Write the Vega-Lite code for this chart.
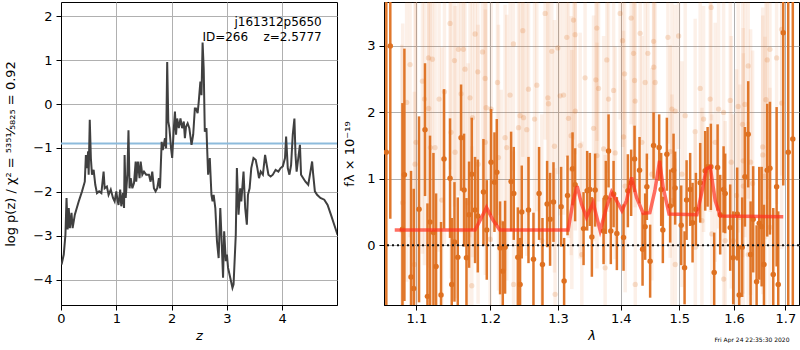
{
  "$schema": "https://vega.github.io/schema/vega-lite/v6.json",
  "padding": {"left": 4, "top": 1, "right": 0, "bottom": 0},
  "background": "white",
  "spacing": 4,
  "title": {"text": "Fri Apr 24 22:35:30 2020", "orient": "bottom", "anchor": "end", "fontSize": 6, "fontWeight": "normal", "font": "DejaVu Sans", "color": "black", "dx": -11, "dy": -10},
  "datasets": {
    "pz": [
      {"z":0.01,"logp":-3.66},{"z":0.05,"logp":-3.43},{"z":0.08,"logp":-2.98},{"z":0.10,"logp":-2.14},{"z":0.12,"logp":-2.86},{"z":0.14,"logp":-2.37},{"z":0.16,"logp":-2.83},{"z":0.19,"logp":-2.48},{"z":0.21,"logp":-2.83},{"z":0.25,"logp":-2.52},{"z":0.32,"logp":-2.22},{"z":0.38,"logp":-1.99},{"z":0.43,"logp":-1.77},{"z":0.45,"logp":-1.16},{"z":0.47,"logp":-1.46},{"z":0.49,"logp":-1.08},{"z":0.50,"logp":-1.61},{"z":0.52,"logp":-0.36},{"z":0.54,"logp":-1.23},{"z":0.56,"logp":-1.61},{"z":0.59,"logp":-1.50},{"z":0.62,"logp":-1.84},{"z":0.65,"logp":-2.03},{"z":0.69,"logp":-1.99},{"z":0.73,"logp":-2.03},{"z":0.77,"logp":-1.54},{"z":0.79,"logp":-1.92},{"z":0.83,"logp":-1.88},{"z":0.86,"logp":-2.07},{"z":0.90,"logp":-1.95},{"z":0.94,"logp":-2.14},{"z":0.97,"logp":-2.22},{"z":1.00,"logp":-1.99},{"z":1.02,"logp":-2.18},{"z":1.04,"logp":-2.30},{"z":1.07,"logp":-1.95},{"z":1.09,"logp":-2.33},{"z":1.12,"logp":-2.03},{"z":1.14,"logp":-2.37},{"z":1.15,"logp":-1.16},{"z":1.17,"logp":-2.14},{"z":1.20,"logp":-1.61},{"z":1.22,"logp":-0.60},{"z":1.24,"logp":-1.92},{"z":1.26,"logp":-1.69},{"z":1.29,"logp":-1.92},{"z":1.32,"logp":-1.80},{"z":1.35,"logp":-1.31},{"z":1.36,"logp":-1.77},{"z":1.39,"logp":-1.31},{"z":1.42,"logp":-1.69},{"z":1.44,"logp":-1.31},{"z":1.47,"logp":-1.61},{"z":1.50,"logp":-1.54},{"z":1.54,"logp":-1.61},{"z":1.59,"logp":-1.61},{"z":1.62,"logp":-1.77},{"z":1.65,"logp":-1.54},{"z":1.68,"logp":-1.92},{"z":1.71,"logp":-1.99},{"z":1.74,"logp":-1.92},{"z":1.77,"logp":-1.69},{"z":1.79,"logp":-1.92},{"z":1.82,"logp":-0.86},{"z":1.84,"logp":-1.05},{"z":1.88,"logp":-0.78},{"z":1.90,"logp":-1.01},{"z":1.92,"logp":0.96},{"z":1.94,"logp":-0.40},{"z":1.96,"logp":-0.55},{"z":1.99,"logp":-1.01},{"z":2.01,"logp":-1.23},{"z":2.04,"logp":-0.55},{"z":2.06,"logp":-0.17},{"z":2.08,"logp":-0.70},{"z":2.10,"logp":-0.33},{"z":2.13,"logp":-0.55},{"z":2.16,"logp":-0.33},{"z":2.19,"logp":-0.55},{"z":2.22,"logp":-0.40},{"z":2.24,"logp":-0.78},{"z":2.26,"logp":-0.52},{"z":2.29,"logp":-0.44},{"z":2.32,"logp":-0.55},{"z":2.36,"logp":-0.93},{"z":2.39,"logp":-0.70},{"z":2.42,"logp":-0.10},{"z":2.44,"logp":-0.10},{"z":2.47,"logp":-0.21},{"z":2.49,"logp":0.05},{"z":2.52,"logp":0.51},{"z":2.54,"logp":0.20},{"z":2.56,"logp":1.40},{"z":2.58,"logp":0.81},{"z":2.60,"logp":-0.63},{"z":2.63,"logp":-0.55},{"z":2.64,"logp":-0.93},{"z":2.66,"logp":-1.61},{"z":2.69,"logp":-1.23},{"z":2.72,"logp":-2.07},{"z":2.74,"logp":-2.22},{"z":2.76,"logp":-2.07},{"z":2.79,"logp":-2.37},{"z":2.82,"logp":-3.13},{"z":2.85,"logp":-3.51},{"z":2.88,"logp":-2.37},{"z":2.90,"logp":-2.98},{"z":2.93,"logp":-3.96},{"z":2.95,"logp":-2.90},{"z":2.98,"logp":-3.58},{"z":3.00,"logp":-3.43},{"z":3.02,"logp":-3.73},{"z":3.06,"logp":-3.96},{"z":3.10,"logp":-4.19},{"z":3.12,"logp":-4.11},{"z":3.16,"logp":-2.98},{"z":3.18,"logp":-1.46},{"z":3.21,"logp":-2.52},{"z":3.24,"logp":-1.92},{"z":3.26,"logp":-2.22},{"z":3.30,"logp":-1.54},{"z":3.33,"logp":-2.37},{"z":3.36,"logp":-2.75},{"z":3.38,"logp":-2.07},{"z":3.41,"logp":-1.92},{"z":3.44,"logp":-1.46},{"z":3.48,"logp":-1.23},{"z":3.52,"logp":-1.27},{"z":3.55,"logp":-1.46},{"z":3.58,"logp":-1.69},{"z":3.61,"logp":-1.54},{"z":3.65,"logp":-1.61},{"z":3.69,"logp":-1.16},{"z":3.72,"logp":-1.39},{"z":3.75,"logp":-1.61},{"z":3.79,"logp":-1.65},{"z":3.83,"logp":-1.61},{"z":3.88,"logp":-1.50},{"z":3.93,"logp":-1.54},{"z":3.97,"logp":-1.46},{"z":4.01,"logp":-1.42},{"z":4.05,"logp":-1.23},{"z":4.07,"logp":-0.74},{"z":4.10,"logp":-1.46},{"z":4.13,"logp":-1.61},{"z":4.16,"logp":-1.39},{"z":4.19,"logp":-0.70},{"z":4.22,"logp":-0.33},{"z":4.24,"logp":-1.16},{"z":4.26,"logp":-1.54},{"z":4.29,"logp":-1.23},{"z":4.32,"logp":-0.93},{"z":4.34,"logp":-1.61},{"z":4.38,"logp":-1.69},{"z":4.42,"logp":-1.77},{"z":4.47,"logp":-1.84},{"z":4.51,"logp":-1.54},{"z":4.54,"logp":-1.31},{"z":4.56,"logp":-1.61},{"z":4.59,"logp":-1.99},{"z":4.63,"logp":-2.07},{"z":4.69,"logp":-2.14},{"z":4.76,"logp":-2.18},{"z":4.82,"logp":-2.30},{"z":4.88,"logp":-2.52},{"z":4.94,"logp":-2.75},{"z":5.00,"logp":-2.98}
    ],
    "label": [
      {"z":4.714,"logp":1.78,"text":"j161312p5650"},
      {"z":4.714,"logp":1.44,"text":"ID=266\u00a0\u00a0\u00a0\u00a0z=2.5777"}
    ],
    "spec": [
      {"lam":1.0616,"f":1.4,"lo":-1.8,"hi":4.6},{"lam":1.0666,"f":3.0,"lo":0.4,"hi":5.6},
      {"lam":1.0820,"f":0.24,"lo":-1.66,"hi":2.14},{"lam":1.0845,"f":1.06,"lo":-0.84,"hi":2.96},{"lam":1.0930,"f":-0.48,"lo":-2.08,"hi":1.12},{"lam":1.0965,"f":-0.65,"lo":-2.15,"hi":0.85},{"lam":1.1034,"f":0.54,"lo":-0.86,"hi":1.94},{"lam":1.1112,"f":1.74,"lo":0.74,"hi":2.74},{"lam":1.1144,"f":-0.77,"lo":-2.17,"hi":0.63},{"lam":1.1178,"f":0.35,"lo":-0.95,"hi":1.65},{"lam":1.1223,"f":0.19,"lo":-1.01,"hi":1.39},{"lam":1.1258,"f":-0.32,"lo":-1.42,"hi":0.78},{"lam":1.1324,"f":-0.75,"lo":-1.85,"hi":0.35},{"lam":1.1364,"f":1.30,"lo":0.25,"hi":2.35},{"lam":1.1445,"f":1.01,"lo":0.11,"hi":1.91},{"lam":1.1468,"f":-0.59,"lo":-1.59,"hi":0.41},
      {"lam":1.1505,"f":0.05,"lo":-0.85,"hi":0.95},{"lam":1.1550,"f":-0.18,"lo":-1.08,"hi":0.72},{"lam":1.1595,"f":1.62,"lo":0.82,"hi":2.42},{"lam":1.1636,"f":0.83,"lo":-0.02,"hi":1.68},{"lam":1.1669,"f":-0.19,"lo":-1.09,"hi":0.71},{"lam":1.1705,"f":0.46,"lo":-0.34,"hi":1.26},{"lam":1.1742,"f":1.07,"lo":0.22,"hi":1.92},{"lam":1.1788,"f":0.53,"lo":-0.27,"hi":1.33},{"lam":1.1826,"f":0.44,"lo":-0.41,"hi":1.29},{"lam":1.1905,"f":0.80,"lo":0.0,"hi":1.6},{"lam":1.1952,"f":0.23,"lo":-0.52,"hi":0.98},{"lam":1.2013,"f":1.25,"lo":0.45,"hi":2.05},{"lam":1.2061,"f":0.95,"lo":0.2,"hi":1.7},{"lam":1.2094,"f":1.10,"lo":0.3,"hi":1.9},{"lam":1.2141,"f":-0.04,"lo":-0.74,"hi":0.66},{"lam":1.2180,"f":-0.39,"lo":-1.14,"hi":0.36},{"lam":1.2213,"f":-0.03,"lo":-0.73,"hi":0.67},{"lam":1.2300,"f":0.96,"lo":0.21,"hi":1.71},{"lam":1.2339,"f":0.78,"lo":0.08,"hi":1.48},{"lam":1.2398,"f":-0.18,"lo":-0.93,"hi":0.57},{"lam":1.2431,"f":-0.59,"lo":-1.29,"hi":0.11},{"lam":1.2456,"f":0.50,"lo":-0.2,"hi":1.2},
      {"lam":1.2555,"f":0.53,"lo":-0.27,"hi":1.33},{"lam":1.2629,"f":-0.21,"lo":-0.91,"hi":0.49},{"lam":1.2713,"f":0.78,"lo":0.08,"hi":1.48},{"lam":1.2764,"f":-0.29,"lo":-0.99,"hi":0.41},{"lam":1.2834,"f":0.62,"lo":-0.03,"hi":1.27},{"lam":1.2879,"f":0.39,"lo":-0.31,"hi":1.09},{"lam":1.2931,"f":0.65,"lo":0.05,"hi":1.25},{"lam":1.3048,"f":0.58,"lo":-0.02,"hi":1.18},{"lam":1.3094,"f":-0.54,"lo":-1.19,"hi":0.11},{"lam":1.3147,"f":0.75,"lo":0.15,"hi":1.35},{"lam":1.3225,"f":1.15,"lo":0.6,"hi":1.7},{"lam":1.3265,"f":0.91,"lo":0.36,"hi":1.46},{"lam":1.3398,"f":0.25,"lo":-0.3,"hi":0.8},{"lam":1.3455,"f":0.82,"lo":0.22,"hi":1.42},{"lam":1.3498,"f":0.84,"lo":0.29,"hi":1.39},{"lam":1.3530,"f":0.125,"lo":-0.475,"hi":0.725},
      {"lam":1.3582,"f":0.83,"lo":0.28,"hi":1.38},{"lam":1.3718,"f":0.215,"lo":-0.285,"hi":0.715},{"lam":1.3755,"f":0.72,"lo":0.17,"hi":1.27},{"lam":1.3799,"f":1.42,"lo":0.87,"hi":1.97},{"lam":1.3836,"f":0.215,"lo":-0.285,"hi":0.715},{"lam":1.3881,"f":0.77,"lo":0.27,"hi":1.27},{"lam":1.3935,"f":0.175,"lo":-0.375,"hi":0.725},{"lam":1.4045,"f":0.115,"lo":-0.385,"hi":0.615},{"lam":1.4117,"f":0.82,"lo":0.27,"hi":1.37},{"lam":1.4172,"f":0.94,"lo":0.44,"hi":1.44},{"lam":1.4229,"f":1.30,"lo":0.8,"hi":1.8},{"lam":1.4313,"f":1.13,"lo":0.63,"hi":1.63},{"lam":1.4364,"f":-0.06,"lo":-0.61,"hi":0.49},{"lam":1.4408,"f":0.28,"lo":-0.22,"hi":0.78},{"lam":1.4437,"f":0.88,"lo":0.38,"hi":1.38},{"lam":1.4493,"f":-0.24,"lo":-0.79,"hi":0.31},{"lam":1.4552,"f":1.50,"lo":1.0,"hi":2.0},{"lam":1.4648,"f":1.47,"lo":0.97,"hi":1.97},{"lam":1.4683,"f":0.84,"lo":0.29,"hi":1.39},{"lam":1.4712,"f":0.23,"lo":-0.27,"hi":0.73},
      {"lam":1.4782,"f":1.37,"lo":0.82,"hi":1.92},{"lam":1.4840,"f":0.59,"lo":0.04,"hi":1.14},{"lam":1.4899,"f":1.13,"lo":0.58,"hi":1.68},{"lam":1.4927,"f":0.86,"lo":0.31,"hi":1.41},{"lam":1.5034,"f":0.30,"lo":-0.3,"hi":0.9},{"lam":1.5094,"f":-0.34,"lo":-0.89,"hi":0.21},{"lam":1.5130,"f":0.68,"lo":0.08,"hi":1.28},{"lam":1.5194,"f":0.84,"lo":0.29,"hi":1.39},{"lam":1.5237,"f":0.34,"lo":-0.26,"hi":0.94},{"lam":1.5297,"f":0.54,"lo":-0.01,"hi":1.09},{"lam":1.5375,"f":0.94,"lo":0.34,"hi":1.54},{"lam":1.5466,"f":1.12,"lo":0.52,"hi":1.72},{"lam":1.5510,"f":1.18,"lo":0.58,"hi":1.78},{"lam":1.5570,"f":1.18,"lo":0.53,"hi":1.83},{"lam":1.5631,"f":-0.41,"lo":-1.01,"hi":0.19},{"lam":1.5694,"f":1.17,"lo":0.52,"hi":1.82},{"lam":1.5742,"f":0.46,"lo":-0.14,"hi":1.06},{"lam":1.5805,"f":0.84,"lo":0.19,"hi":1.49},{"lam":1.5835,"f":0.78,"lo":0.18,"hi":1.38},{"lam":1.5929,"f":0.265,"lo":-0.385,"hi":0.915},
      {"lam":1.5986,"f":-0.19,"lo":-0.89,"hi":0.51},{"lam":1.6061,"f":0.47,"lo":-0.23,"hi":1.17},{"lam":1.6099,"f":-0.75,"lo":-1.5,"hi":0.0},{"lam":1.6156,"f":-0.03,"lo":-0.78,"hi":0.72},{"lam":1.6208,"f":1.03,"lo":0.28,"hi":1.78},{"lam":1.6271,"f":1.67,"lo":0.87,"hi":2.47},{"lam":1.6317,"f":-0.14,"lo":-0.94,"hi":0.66},{"lam":1.6367,"f":0.39,"lo":-0.41,"hi":1.19},{"lam":1.6433,"f":-0.55,"lo":-1.4,"hi":0.3},{"lam":1.6484,"f":0.33,"lo":-0.52,"hi":1.18},{"lam":1.6531,"f":0.28,"lo":-0.62,"hi":1.18},{"lam":1.6576,"f":-0.29,"lo":-1.19,"hi":0.61},{"lam":1.6640,"f":1.13,"lo":0.13,"hi":2.13},{"lam":1.6694,"f":1.16,"lo":0.16,"hi":2.16},{"lam":1.6759,"f":-0.44,"lo":-1.44,"hi":0.56},{"lam":1.6826,"f":0.88,"lo":-0.32,"hi":2.08},{"lam":1.6858,"f":-0.59,"lo":-1.69,"hi":0.51},
      {"lam":1.6958,"f":3.2,"lo":0.9,"hi":5.5},{"lam":1.7058,"f":1.4,"lo":-1.8,"hi":4.6},{"lam":1.7150,"f":1.6,"lo":-1.6,"hi":4.8}
    ],
    "bg": [
      {"lam":1.0918,"f":2.72,"lo":0.12,"hi":5.32},{"lam":1.1157,"f":2.82,"lo":0.42,"hi":5.22},{"lam":1.1209,"f":2.80,"lo":0.40,"hi":5.20},{"lam":1.1078,"f":2.47,"lo":-0.13,"hi":5.07},{"lam":1.1105,"f":2.20,"lo":-0.30,"hi":4.70},{"lam":1.1298,"f":2.20,"lo":-0.10,"hi":4.50},{"lam":1.1160,"f":2.06,"lo":-0.34,"hi":4.46},{"lam":1.0995,"f":1.55,"lo":-1.05,"hi":4.15},{"lam":1.1183,"f":1.47,"lo":-0.93,"hi":3.87},{"lam":1.0874,"f":2.15,"lo":-0.55,"hi":4.85},{"lam":1.0982,"f":1.22,"lo":-1.38,"hi":3.82},{"lam":1.1334,"f":0.68,"lo":-1.62,"hi":2.98},{"lam":1.1245,"f":1.47,"lo":-0.83,"hi":3.77},{"lam":1.1445,"f":3.34,"lo":1.14,"hi":5.54},{"lam":1.1458,"f":1.70,"lo":-0.50,"hi":3.90},{"lam":1.0823,"f":0.64,"lo":-2.06,"hi":3.34},{"lam":1.0973,"f":-0.29,"lo":-2.89,"hi":2.31},{"lam":1.1370,"f":2.31,"lo":0.01,"hi":4.61},{"lam":1.0811,"f":0.22,"lo":-2.58,"hi":3.02},
      {"lam":1.1788,"f":3.18,"lo":1.08,"hi":5.28},{"lam":1.1505,"f":2.78,"lo":0.58,"hi":4.98},{"lam":1.1559,"f":2.95,"lo":0.75,"hi":5.15},{"lam":1.1627,"f":2.95,"lo":0.85,"hi":5.05},{"lam":1.1892,"f":2.91,"lo":0.81,"hi":5.01},{"lam":1.1929,"f":2.51,"lo":0.51,"hi":4.51},{"lam":1.1826,"f":2.61,"lo":0.51,"hi":4.71},{"lam":1.1649,"f":2.65,"lo":0.55,"hi":4.75},{"lam":1.2104,"f":2.45,"lo":0.45,"hi":4.45},{"lam":1.1595,"f":2.28,"lo":0.18,"hi":4.38},{"lam":1.1718,"f":2.22,"lo":0.12,"hi":4.32},{"lam":1.1943,"f":2.07,"lo":0.07,"hi":4.07},{"lam":1.2014,"f":2.05,"lo":0.05,"hi":4.05},{"lam":1.2285,"f":2.26,"lo":0.26,"hi":4.26},{"lam":1.2431,"f":1.95,"lo":-0.05,"hi":3.95},{"lam":1.2471,"f":3.23,"lo":1.33,"hi":5.13},{"lam":1.2334,"f":3.03,"lo":1.13,"hi":4.93},{"lam":1.1752,"f":1.92,"lo":-0.18,"hi":4.02},{"lam":1.1513,"f":1.40,"lo":-0.80,"hi":3.60},{"lam":1.2213,"f":1.62,"lo":-0.38,"hi":3.62},{"lam":1.2237,"f":1.47,"lo":-0.53,"hi":3.47},{"lam":1.2408,"f":1.77,"lo":-0.23,"hi":3.77},{"lam":1.1932,"f":1.55,"lo":-0.45,"hi":3.55},{"lam":1.1691,"f":0.64,"lo":-1.46,"hi":2.74},{"lam":1.1830,"f":1.22,"lo":-0.88,"hi":3.32},{"lam":1.2118,"f":1.32,"lo":-0.68,"hi":3.32},{"lam":1.2000,"f":0.09,"lo":-1.91,"hi":2.09},{"lam":1.2157,"f":0.34,"lo":-1.66,"hi":2.34},{"lam":1.1742,"f":-0.61,"lo":-2.71,"hi":1.49},{"lam":1.2336,"f":-0.59,"lo":-2.59,"hi":1.41},
      {"lam":1.2804,"f":3.49,"lo":1.59,"hi":5.39},{"lam":1.3240,"f":3.39,"lo":1.59,"hi":5.19},{"lam":1.3136,"f":3.13,"lo":1.33,"hi":4.93},{"lam":1.3265,"f":3.17,"lo":1.37,"hi":4.97},{"lam":1.2905,"f":2.92,"lo":1.02,"hi":4.82},{"lam":1.2997,"f":2.97,"lo":1.07,"hi":4.87},{"lam":1.2555,"f":2.35,"lo":0.45,"hi":4.25},{"lam":1.2679,"f":2.41,"lo":0.51,"hi":4.31},{"lam":1.2845,"f":2.22,"lo":0.32,"hi":4.12},{"lam":1.2855,"f":2.13,"lo":0.23,"hi":4.03},{"lam":1.3033,"f":2.25,"lo":0.45,"hi":4.05},{"lam":1.3085,"f":2.26,"lo":0.46,"hi":4.06},{"lam":1.2482,"f":1.92,"lo":0.02,"hi":3.82},{"lam":1.2530,"f":1.74,"lo":-0.16,"hi":3.64},{"lam":1.2645,"f":1.90,"lo":0.0,"hi":3.8},{"lam":1.2946,"f":1.49,"lo":-0.41,"hi":3.39},{"lam":1.3162,"f":1.91,"lo":0.11,"hi":3.71},{"lam":1.3203,"f":1.65,"lo":-0.15,"hi":3.45},{"lam":1.3344,"f":1.50,"lo":-0.2,"hi":3.2},{"lam":1.3422,"f":2.52,"lo":0.82,"hi":4.22},{"lam":1.3268,"f":2.02,"lo":0.22,"hi":3.82},{"lam":1.3214,"f":1.14,"lo":-0.66,"hi":2.94},{"lam":1.2754,"f":0.07,"lo":-1.83,"hi":1.97},{"lam":1.3370,"f":-0.14,"lo":-1.84,"hi":1.56},{"lam":1.2956,"f":-0.74,"lo":-2.64,"hi":1.16},
      {"lam":1.3989,"f":3.49,"lo":1.89,"hi":5.09},{"lam":1.4172,"f":3.42,"lo":1.82,"hi":5.02},{"lam":1.3610,"f":3.27,"lo":1.57,"hi":4.97},{"lam":1.4029,"f":3.08,"lo":1.48,"hi":4.68},{"lam":1.4323,"f":3.19,"lo":1.59,"hi":4.79},{"lam":1.4552,"f":3.07,"lo":1.47,"hi":4.67},{"lam":1.3771,"f":2.79,"lo":1.09,"hi":4.49},{"lam":1.4212,"f":2.89,"lo":1.29,"hi":4.49},{"lam":1.4454,"f":2.89,"lo":1.29,"hi":4.49},{"lam":1.3594,"f":2.49,"lo":0.79,"hi":4.19},{"lam":1.4062,"f":2.58,"lo":0.98,"hi":4.18},{"lam":1.4555,"f":2.68,"lo":1.08,"hi":4.28},{"lam":1.3799,"f":2.20,"lo":0.5,"hi":3.9},{"lam":1.3637,"f":2.36,"lo":0.66,"hi":4.06},{"lam":1.3881,"f":2.33,"lo":0.73,"hi":3.93},{"lam":1.4229,"f":2.48,"lo":0.88,"hi":4.08},{"lam":1.4239,"f":2.17,"lo":0.57,"hi":3.77},{"lam":1.4408,"f":2.45,"lo":0.85,"hi":4.05},{"lam":1.4579,"f":2.45,"lo":0.85,"hi":4.05},{"lam":1.3557,"f":1.76,"lo":0.06,"hi":3.46},{"lam":1.3612,"f":1.35,"lo":-0.35,"hi":3.05},{"lam":1.3718,"f":1.45,"lo":-0.25,"hi":3.15},{"lam":1.4045,"f":1.63,"lo":0.03,"hi":3.23},{"lam":1.4352,"f":1.55,"lo":-0.05,"hi":3.15},{"lam":1.4072,"f":0.89,"lo":-0.71,"hi":2.49},{"lam":1.3907,"f":1.39,"lo":-0.21,"hi":2.99},{"lam":1.4522,"f":1.07,"lo":-0.53,"hi":2.67},{"lam":1.3744,"f":-0.34,"lo":-2.04,"hi":1.36},{"lam":1.4241,"f":-0.59,"lo":-2.19,"hi":1.01},
      {"lam":1.5575,"f":3.58,"lo":1.88,"hi":5.28},{"lam":1.4800,"f":3.13,"lo":1.53,"hi":4.73},{"lam":1.4988,"f":3.15,"lo":1.45,"hi":4.85},{"lam":1.5375,"f":2.36,"lo":0.66,"hi":4.06},{"lam":1.5557,"f":2.20,"lo":0.5,"hi":3.9},{"lam":1.4870,"f":2.05,"lo":0.45,"hi":3.65},{"lam":1.4927,"f":2.02,"lo":0.42,"hi":3.62},{"lam":1.5105,"f":1.95,"lo":0.25,"hi":3.65},{"lam":1.5436,"f":1.90,"lo":0.2,"hi":3.6},{"lam":1.5712,"f":2.05,"lo":0.25,"hi":3.85},{"lam":1.5805,"f":2.00,"lo":0.2,"hi":3.8},{"lam":1.5284,"f":1.71,"lo":0.01,"hi":3.41},{"lam":1.4840,"f":1.41,"lo":-0.19,"hi":3.01},{"lam":1.5650,"f":1.55,"lo":-0.25,"hi":3.35},{"lam":1.5046,"f":1.07,"lo":-0.63,"hi":2.77},{"lam":1.4872,"f":0.67,"lo":-0.93,"hi":2.27},{"lam":1.5406,"f":0.37,"lo":-1.33,"hi":2.07},{"lam":1.5588,"f":0.17,"lo":-1.63,"hi":1.97},{"lam":1.5835,"f":0.07,"lo":-1.73,"hi":1.87},{"lam":1.5286,"f":-0.03,"lo":-1.73,"hi":1.67},{"lam":1.4929,"f":-0.29,"lo":-1.89,"hi":1.31},{"lam":1.5807,"f":-0.51,"lo":-2.31,"hi":1.29},
      {"lam":1.6925,"f":3.25,"lo":1.05,"hi":5.45},{"lam":1.6693,"f":2.95,"lo":0.85,"hi":5.05},{"lam":1.6826,"f":2.82,"lo":0.62,"hi":5.02},{"lam":1.6640,"f":2.79,"lo":0.69,"hi":4.89},{"lam":1.6271,"f":2.70,"lo":0.7,"hi":4.7},{"lam":1.5930,"f":2.18,"lo":0.28,"hi":4.08},{"lam":1.6080,"f":2.09,"lo":0.19,"hi":3.99},{"lam":1.6208,"f":2.12,"lo":0.12,"hi":4.12},{"lam":1.6615,"f":2.19,"lo":0.09,"hi":4.29},{"lam":1.6927,"f":2.14,"lo":-0.06,"hi":4.34},{"lam":1.6163,"f":1.82,"lo":-0.18,"hi":3.82},{"lam":1.6551,"f":1.48,"lo":-0.62,"hi":3.58},{"lam":1.6553,"f":1.36,"lo":-0.74,"hi":3.46},{"lam":1.5949,"f":1.25,"lo":-0.65,"hi":3.15},{"lam":1.6176,"f":1.27,"lo":-0.73,"hi":3.27},{"lam":1.6317,"f":1.25,"lo":-0.75,"hi":3.25},{"lam":1.6356,"f":0.93,"lo":-1.07,"hi":2.93},{"lam":1.6049,"f":0.75,"lo":-1.15,"hi":2.65},{"lam":1.6178,"f":0.89,"lo":-1.11,"hi":2.89},{"lam":1.6595,"f":1.04,"lo":-1.06,"hi":3.14},{"lam":1.5986,"f":0.07,"lo":-1.83,"hi":1.97},{"lam":1.6112,"f":0.42,"lo":-1.58,"hi":2.42},{"lam":1.6271,"f":-0.14,"lo":-2.14,"hi":1.86},{"lam":1.6695,"f":0.27,"lo":-1.83,"hi":2.37}
    ],
    "model": [
      {"lam":1.0722,"f":0.23},{"lam":1.1788,"f":0.23},{"lam":1.1870,"f":0.40},{"lam":1.1948,"f":0.57},{"lam":1.2040,"f":0.38},{"lam":1.2137,"f":0.23},{"lam":1.3156,"f":0.23},{"lam":1.3235,"f":0.67},{"lam":1.3297,"f":0.89},{"lam":1.3366,"f":0.62},{"lam":1.3444,"f":0.42},{"lam":1.3551,"f":0.64},{"lam":1.3663,"f":0.22},{"lam":1.3766,"f":0.57},{"lam":1.3848,"f":0.80},{"lam":1.3930,"f":0.67},{"lam":1.4018,"f":0.52},{"lam":1.4095,"f":0.67},{"lam":1.4180,"f":1.02},{"lam":1.4262,"f":0.72},{"lam":1.4375,"f":0.48},{"lam":1.4488,"f":0.49},{"lam":1.4574,"f":0.82},{"lam":1.4655,"f":1.27},{"lam":1.4718,"f":0.87},{"lam":1.4820,"f":0.47},{"lam":1.5315,"f":0.46},{"lam":1.5423,"f":0.87},{"lam":1.5485,"f":1.15},{"lam":1.5557,"f":1.18},{"lam":1.5650,"f":0.67},{"lam":1.5742,"f":0.44},{"lam":1.6958,"f":0.43}
    ]
  },
  "hconcat": [
    {
      "width": 276,
      "height": 303,
      "layer": [
        {
          "data": {"values": [{}]},
          "mark": {"type": "rule", "color": "#8dbbdc", "strokeWidth": 2},
          "encoding": {"y": {"datum": -0.9, "type": "quantitative", "title": "log p(z) / χ² = ⁵³⁵¹⁄₅₈₂₅ = 0.92"}}
        },
        {
          "data": {"name": "pz"},
          "mark": {"type": "line", "color": "#404040", "strokeWidth": 2, "clip": true},
          "encoding": {
            "x": {"field": "z", "type": "quantitative", "title": "z", "scale": {"domain": [0, 4.99], "nice": false, "zero": false}, "axis": {"values": [0, 1, 2, 3, 4], "format": "d", "titleFontStyle": "italic", "grid": true}},
            "y": {"field": "logp", "type": "quantitative", "title": "log p(z) / χ² = ⁵³⁵¹⁄₅₈₂₅ = 0.92", "scale": {"domain": [-4.58, 2.325], "nice": false, "zero": false}, "axis": {"values": [-4, -3, -2, -1, 0, 1, 2], "format": "d", "titlePadding": 15, "grid": true}}
          }
        },
        {
          "data": {"name": "label"},
          "mark": {"type": "text", "align": "right", "baseline": "alphabetic", "fontSize": 12, "font": "DejaVu Sans", "color": "black"},
          "encoding": {
            "x": {"field": "z", "type": "quantitative", "title": "z"},
            "y": {"field": "logp", "type": "quantitative", "title": "log p(z) / χ² = ⁵³⁵¹⁄₅₈₂₅ = 0.92"},
            "text": {"field": "text"}
          }
        }
      ]
    },
    {
      "width": 415,
      "height": 303,
      "layer": [
        {
          "data": {"name": "bg"},
          "mark": {"type": "rule", "color": "#de7020", "strokeWidth": 3.5, "opacity": 0.1, "clip": true},
          "encoding": {
            "x": {"field": "lam", "type": "quantitative", "title": "λ", "scale": {"type": "log", "domain": [1.0587, 1.7276], "nice": false, "zero": false}, "axis": {"values": [1.1, 1.2, 1.3, 1.4, 1.5, 1.6, 1.7], "format": ".1f", "titleFontStyle": "italic", "grid": true}},
            "y": {"field": "lo", "type": "quantitative", "title": "fλ × 10⁻¹⁹", "scale": {"domain": [-0.9, 3.662], "nice": false, "zero": false}, "axis": {"values": [0, 1, 2, 3], "format": "d", "titlePadding": 10, "grid": true}},
            "y2": {"field": "hi"}
          }
        },
        {
          "data": {"name": "bg"},
          "mark": {"type": "circle", "color": "#de7020", "opacity": 0.2, "size": 28, "clip": true},
          "encoding": {
            "x": {"field": "lam", "type": "quantitative", "title": "λ"},
            "y": {"field": "f", "type": "quantitative", "title": "fλ × 10⁻¹⁹"}
          }
        },
        {
          "data": {"name": "spec"},
          "mark": {"type": "rule", "color": "#de7020", "strokeWidth": 2.5, "opacity": 0.95, "clip": true},
          "encoding": {
            "x": {"field": "lam", "type": "quantitative", "title": "λ"},
            "y": {"field": "lo", "type": "quantitative", "title": "fλ × 10⁻¹⁹"},
            "y2": {"field": "hi"}
          }
        },
        {
          "data": {"name": "spec"},
          "mark": {"type": "circle", "color": "#de7020", "opacity": 1, "size": 30, "clip": true},
          "encoding": {
            "x": {"field": "lam", "type": "quantitative", "title": "λ"},
            "y": {"field": "f", "type": "quantitative", "title": "fλ × 10⁻¹⁹"}
          }
        },
        {
          "data": {"values": [{}]},
          "mark": {"type": "rule", "color": "#111111", "strokeWidth": 2, "strokeDash": [2, 3]},
          "encoding": {"y": {"datum": 0, "type": "quantitative", "title": "fλ × 10⁻¹⁹"}}
        },
        {
          "data": {"name": "model"},
          "mark": {"type": "line", "color": "#ff3020", "strokeWidth": 3.5, "opacity": 0.7, "clip": true},
          "encoding": {
            "x": {"field": "lam", "type": "quantitative", "title": "λ"},
            "y": {"field": "f", "type": "quantitative", "title": "fλ × 10⁻¹⁹"}
          }
        }
      ]
    }
  ],
  "config": {
    "view": {"stroke": "black", "strokeWidth": 1},
    "font": "DejaVu Sans",
    "axis": {
      "labelFont": "DejaVu Sans", "titleFont": "DejaVu Sans", "labelFontSize": 13, "titleFontSize": 13, "titleFontWeight": "normal",
      "labelColor": "black", "titleColor": "black", "domainColor": "black", "tickColor": "black", "tickSize": 5, "labelPadding": 4,
      "grid": true, "gridColor": "#b0b0b0", "gridWidth": 1, "gridOpacity": 1, "labelFlush": false, "labelOverlap": false
    },
    "axisX": {"titlePadding": 4, "labelPadding": 2}
  }
}
